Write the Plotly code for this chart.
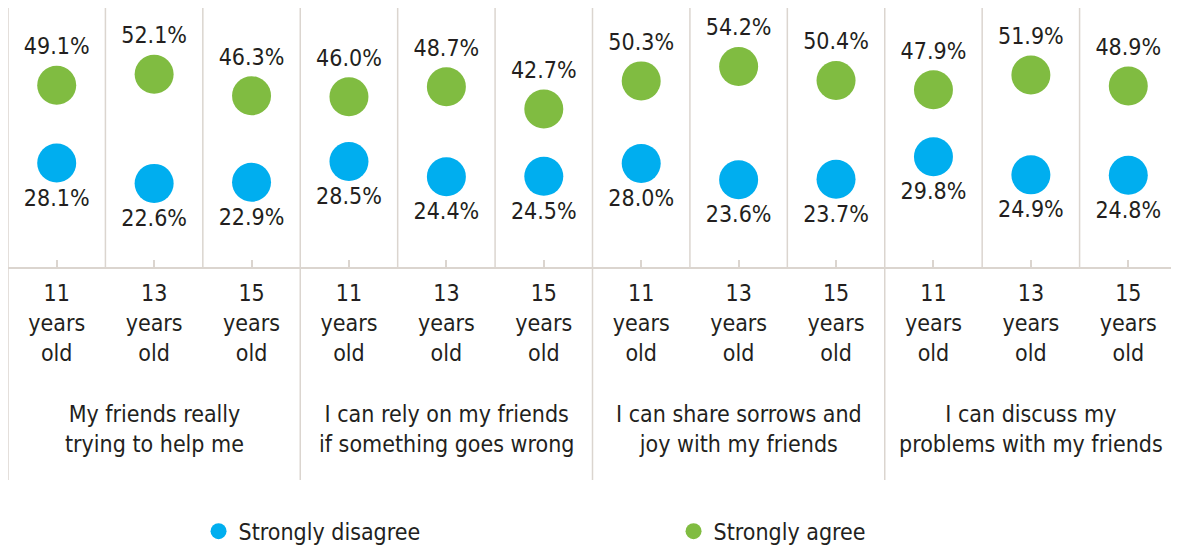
import plotly.graph_objects as go

groups = [
    "My friends really<br>trying to help me",
    "I can rely on my friends<br>if something goes wrong",
    "I can share sorrows and<br>joy with my friends",
    "I can discuss my<br>problems with my friends",
]
ages = ["11<br>years<br>old", "13<br>years<br>old", "15<br>years<br>old"]
strongly_disagree = [28.1, 22.6, 22.9, 28.5, 24.4, 24.5, 28.0, 23.6, 23.7, 29.8, 24.9, 24.8]
strongly_agree = [49.1, 52.1, 46.3, 46.0, 48.7, 42.7, 50.3, 54.2, 50.4, 47.9, 51.9, 48.9]

FONT = "Liberation Sans Narrow, DejaVu Sans Condensed, Arial Narrow, sans-serif"
TXT = "#231f20"
LINE = "#dbd5cf"
BLUE = "#00aeef"
GREEN = "#80bc41"

n_age = len(ages)
n = len(groups) * n_age
x_pos = list(range(n))
tick_text = ages * len(groups)

fig = go.Figure()
fig.add_trace(go.Scatter(
    x=x_pos, y=strongly_disagree, mode="markers+text", name="Strongly disagree",
    marker=dict(color=BLUE, size=39),
    text=[f"{v:.1f}%" for v in strongly_disagree], textposition="bottom center",
    textfont=dict(family=FONT, size=23, color=TXT), cliponaxis=False,
))
fig.add_trace(go.Scatter(
    x=x_pos, y=strongly_agree, mode="markers+text", name="Strongly agree",
    marker=dict(color=GREEN, size=39),
    text=[f"{v:.1f}%" for v in strongly_agree], textposition="top center",
    textfont=dict(family=FONT, size=23, color=TXT), cliponaxis=False,
))

shapes = []
# column separators inside plot
for i in range(1, n):
    if i % n_age != 0:
        shapes.append(dict(type="line", xref="x", yref="y", x0=i - 0.5, x1=i - 0.5,
                           y0=0, y1=70, line=dict(color=LINE, width=1.5), layer="below"))
# group separators extending through label area
for g in range(len(groups) + 1):
    xb = g * n_age - 0.5
    shapes.append(dict(type="line", xref="x", yref="paper", x0=xb, x1=xb,
                       y0=-0.822, y1=1, line=dict(color=LINE, width=1.5), layer="below"))

annotations = []
for g, label in enumerate(groups):
    annotations.append(dict(
        x=g * n_age + (n_age - 1) / 2, y=-0.625, xref="x", yref="paper",
        text=label, showarrow=False, yanchor="middle",
        font=dict(family=FONT, size=23, color=TXT),
    ))

fig.update_layout(
    width=1179, height=550,
    margin=dict(l=0, r=10, t=0, b=291, autoexpand=False),
    plot_bgcolor="white", paper_bgcolor="white",
    shapes=shapes, annotations=annotations,
    showlegend=True,
    legend=dict(orientation="h", x=0.163, y=-1.02, xanchor="left", yanchor="middle",
                font=dict(family=FONT, size=23, color=TXT),
                itemsizing="trace", entrywidth=430, entrywidthmode="pixels"),
    xaxis=dict(range=[-0.5, n - 0.5], tickvals=x_pos, ticktext=tick_text,
               showgrid=False, zeroline=False, showline=True, linecolor=LINE, linewidth=1.5,
               ticks="inside", ticklen=7, tickcolor=LINE, tickwidth=1.5, automargin=False,
               tickfont=dict(family=FONT, size=23, color=TXT), ticklabelstandoff=5),
    yaxis=dict(range=[0, 70], showgrid=False, zeroline=False, showticklabels=False,
               ticks="", showline=False, automargin=False),
)

fig.write_html("out.html")
